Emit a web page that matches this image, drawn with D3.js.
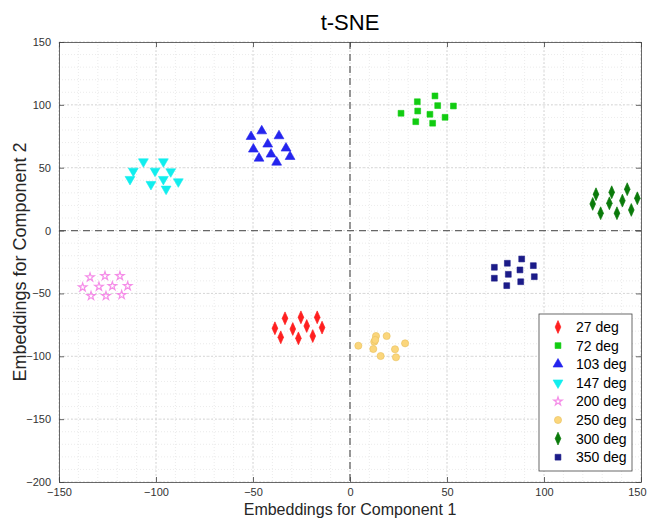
<!DOCTYPE html>
<html>
<head>
<meta charset="utf-8">
<script src="https://cdn.jsdelivr.net/npm/d3@7"></script>
<style>
  body { margin: 0; background: #fff; }
  svg { font-family: "Liberation Sans", Arial, sans-serif; }
</style>
</head>
<body>
<svg id="chart" width="648" height="518"></svg>
<script>
// group labels
const labels = ['27 deg', '72 deg', '103 deg', '147 deg', '200 deg', '250 deg', '300 deg', '350 deg']
const colors = ['#ff1f1f', '#11cc11', '#2424ee', '#11eeee', '#f58ee8', '#fbd67c', '#0a7a0a', '#1b1b88']
const shapes = ['diamond', 'square', 'triUp', 'triDown', 'star', 'circle', 'diamond', 'square']

// embeddings per group (component 1, component 2)
const x27 = [-33.5, -25.3, -16.9, -38.7, -29.5, -22.3, -14.4, -35.7, -26.6, -19.2]
const y27 = [-69.8, -69.0, -69.0, -77.7, -78.3, -75.9, -77.2, -84.9, -85.7, -83.9]
const x72 = [34.7, 43.8, 34.9, 45.2, 53.3, 26.3, 41.2, 49.0, 33.9, 42.6]
const y72 = [102.5, 107.1, 95.1, 99.4, 99.1, 93.3, 92.5, 90.1, 86.6, 85.4]
const x103 = [-45.5, -51.0, -36.6, -42.4, -49.8, -33.0, -40.7, -46.9, -30.9, -37.8]
const y103 = [79.2, 74.7, 75.3, 68.7, 64.7, 65.5, 60.7, 57.5, 58.8, 54.3]
const x147 = [-106.5, -96.2, -111.7, -100.5, -92.4, -113.4, -96.2, -88.5, -102.6, -94.8]
const y147 = [54.8, 54.8, 47.4, 47.4, 46.9, 40.8, 40.8, 38.9, 36.8, 33.1]
const x200 = [-134.0, -126.3, -118.6, -137.8, -129.4, -122.5, -114.6, -133.5, -125.8, -117.7]
const y200 = [-37.2, -36.1, -36.1, -45.1, -44.6, -44.1, -44.1, -52.0, -52.0, -51.2]
const x250 = [4.3, 13.4, 18.9, 12.5, 12.0, 28.4, 23.2, 15.8, 23.7, 13.0]
const y250 = [-91.6, -83.9, -83.9, -88.4, -94.2, -89.7, -94.4, -99.8, -100.8, -87.0]
const x300 = [126.8, 134.9, 142.9, 125.1, 133.7, 140.4, 148.1, 129.2, 137.6, 145.0]
const y300 = [28.9, 30.5, 32.9, 21.2, 21.7, 23.8, 25.7, 13.8, 13.8, 16.4]
const x350 = [74.4, 81.1, 88.5, 94.5, 81.6, 87.6, 74.4, 95.0, 88.0, 80.8]
const y350 = [-29.2, -26.0, -22.6, -27.9, -34.8, -31.3, -37.9, -36.7, -40.7, -43.8]

const xs = [x27, x72, x103, x147, x200, x250, x300, x350]
const ys = [y27, y72, y103, y147, y200, y250, y300, y350]

const xTicks = [-150, -100, -50, 0, 50, 100, 150]
const yTicks = [-200, -150, -100, -50, 0, 50, 100, 150]

const margin = { left: 59, right: 7, top: 42, bottom: 36 }
const width = 648 - margin.left - margin.right
const height = 518 - margin.top - margin.bottom

const svg = d3.select('#chart')
const g = svg.append('g').attr('transform', `translate(${margin.left}, ${margin.top})`)

const x = d3.scaleLinear().domain([-150, 150]).range([0, width])
const y = d3.scaleLinear().domain([-200, 150]).range([height, 0])

// minor grid
g.append('g').selectAll('line')
    .data(d3.range(-150, 151, 10))
    .enter().append('line')
    .attr('x1', d => x(d)).attr('x2', d => x(d))
    .attr('y1', 0).attr('y2', height)
    .attr('stroke', '#e6e6e6').attr('stroke-width', 0.8)
    .attr('stroke-dasharray', '1,2')
g.append('g').selectAll('line')
    .data(d3.range(-200, 151, 10))
    .enter().append('line')
    .attr('y1', d => y(d)).attr('y2', d => y(d))
    .attr('x1', 0).attr('x2', width)
    .attr('stroke', '#e6e6e6').attr('stroke-width', 0.8)
    .attr('stroke-dasharray', '1,2')

// major grid
g.append('g').selectAll('line')
    .data(xTicks)
    .enter().append('line')
    .attr('x1', d => x(d)).attr('x2', d => x(d))
    .attr('y1', 0).attr('y2', height)
    .attr('stroke', '#d8d8d8').attr('stroke-dasharray', '2,2')
g.append('g').selectAll('line')
    .data(yTicks)
    .enter().append('line')
    .attr('y1', d => y(d)).attr('y2', d => y(d))
    .attr('x1', 0).attr('x2', width)
    .attr('stroke', '#d8d8d8').attr('stroke-dasharray', '2,2')

// zero lines
g.append('line')
    .attr('x1', x(0)).attr('x2', x(0)).attr('y1', 0).attr('y2', height)
    .attr('stroke', '#666').attr('stroke-width', 1.3).attr('stroke-dasharray', '7,5')
g.append('line')
    .attr('y1', y(0)).attr('y2', y(0)).attr('x1', 0).attr('x2', width)
    .attr('stroke', '#666').attr('stroke-width', 1.3).attr('stroke-dasharray', '7,5')

// axes
const xAxis = g.append('g')
    .attr('transform', `translate(0, ${height})`)
    .call(d3.axisBottom(x).tickValues(xTicks).tickSizeInner(-5).tickSizeOuter(0).tickPadding(6))
const yAxis = g.append('g')
    .call(d3.axisLeft(y).tickValues(yTicks).tickSizeInner(-5).tickSizeOuter(0).tickPadding(8))
const xAxisTop = g.append('g')
    .call(d3.axisTop(x).tickValues(xTicks).tickSizeInner(-5).tickSizeOuter(0).tickFormat(''))
const yAxisRight = g.append('g')
    .attr('transform', `translate(${width}, 0)`)
    .call(d3.axisRight(y).tickValues(yTicks).tickSizeInner(-5).tickSizeOuter(0).tickFormat(''))

;[xAxis, yAxis, xAxisTop, yAxisRight].forEach(a => {
    a.select('.domain').attr('stroke', '#444').attr('stroke-width', 0.8)
    a.selectAll('.tick line').attr('stroke', '#444').attr('stroke-width', 0.8)
    a.selectAll('.tick text').attr('fill', '#333').style('font-size', '11px')
        .style('font-family', '"Liberation Sans", Arial, sans-serif')
})
// keep the last x label inside the window
xAxis.selectAll('.tick text').filter(d => d === 150).attr('text-anchor', 'end').attr('dx', 5)

// marker shapes
const symbolFor = {
    diamond: d3.symbol().type(d3.symbolDiamond).size(28),
    square: d3.symbol().type(d3.symbolSquare).size(34),
    triUp: d3.symbol().type(d3.symbolTriangle).size(42),
    triDown: d3.symbol().type(d3.symbolTriangle).size(42),
    star: d3.symbol().type(d3.symbolStar).size(22),
    circle: d3.symbol().type(d3.symbolCircle).size(40)
}

function drawMarker(sel, i) {
    const shape = shapes[i]
    sel.append('path')
        .attr('d', symbolFor[shape]())
        .attr('fill', shape === 'star' ? 'none' : colors[i])
        .attr('stroke', shape === 'circle' ? '#e8bf5a' : colors[i])
        .attr('stroke-width', shape === 'star' ? 1.2 : 0.6)
}

function placeMarker(parent, i) {
    const inner = parent.append('g')
    if (shapes[i] === 'triDown') inner.attr('transform', 'rotate(180)')
    if (shapes[i] === 'diamond') inner.attr('transform', 'scale(1,1.3)')
    drawMarker(inner, i)
}

const points = g.append('g')
labels.forEach((lab, i) => {
    const pts = xs[i].map((v, k) => [v, ys[i][k]])
    pts.forEach(p => {
        const m = points.append('g')
            .attr('class', 'point')
            .attr('transform', `translate(${x(p[0])}, ${y(p[1])})`)
        placeMarker(m, i)
    })
})

// legend
const legend = svg.append('g').attr('transform', 'translate(539, 314)')
legend.append('rect')
    .attr('width', 93).attr('height', 157)
    .attr('fill', '#fff').attr('stroke', '#444').attr('stroke-width', 0.8)
labels.forEach((lab, i) => {
    const row = legend.append('g').attr('transform', `translate(0, ${13 + i * 18.6})`)
    const m = row.append('g').attr('transform', 'translate(19, 0)')
    placeMarker(m, i)
    row.append('text')
        .attr('x', 37).attr('y', 5)
        .style('font-size', '14px')
        .attr('fill', '#000')
        .text(lab)
})

// titles
svg.append('text')
    .attr('x', margin.left + width / 2).attr('y', 30)
    .attr('text-anchor', 'middle')
    .style('font-size', '22px')
    .attr('fill', '#000')
    .text('t-SNE')
svg.append('text')
    .attr('x', margin.left + width / 2).attr('y', 514.5)
    .attr('text-anchor', 'middle')
    .style('font-size', '16px')
    .attr('fill', '#262626')
    .text('Embeddings for Component 1')
svg.append('text')
    .attr('transform', `translate(26, ${margin.top + height / 2}) rotate(-90)`)
    .attr('text-anchor', 'middle')
    .style('font-size', '18px')
    .attr('fill', '#262626')
    .text('Embeddings for Component 2')
</script>
</body>
</html>
